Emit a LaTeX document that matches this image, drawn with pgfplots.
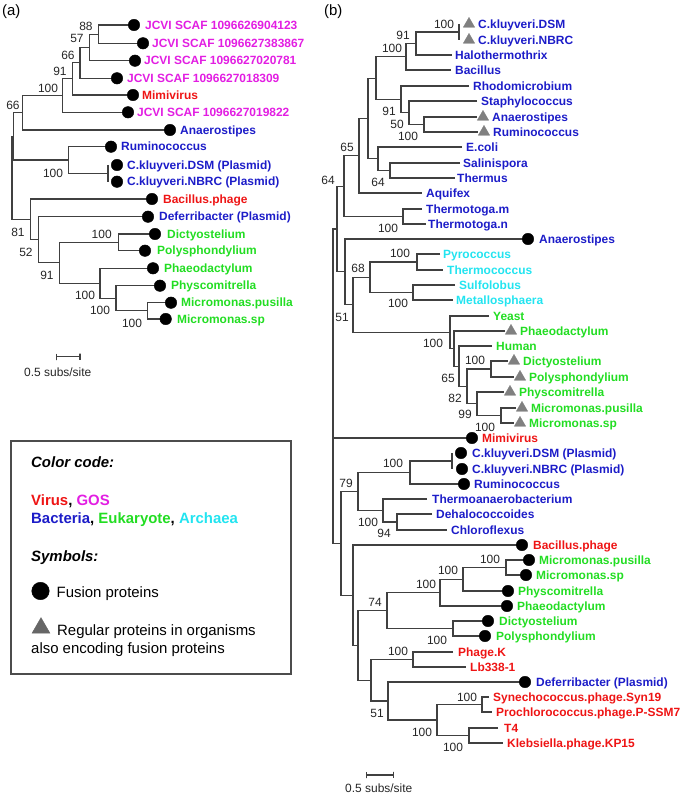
\documentclass[border=0pt]{standalone}
\usepackage{pgfplots}
\pgfplotsset{compat=1.18}
\usepackage{pgfplotstable}
\usepackage{fontspec}
\setmainfont{Liberation Sans}
\definecolor{cvir}{HTML}{EE1414}
\definecolor{cgos}{HTML}{E21EE2}
\definecolor{cbac}{HTML}{1C1CC8}
\definecolor{ceuk}{HTML}{22DD22}
\definecolor{carc}{HTML}{22E4F0}
\definecolor{ctri}{HTML}{808080}
\definecolor{cbr}{HTML}{404040}

% ---------- leaf label tables (x = start of text, y = leaf row) ----------
\pgfplotstableread[col sep=comma]{
x,y,label
145,25,JCVI SCAF 1096626904123
152,43.3,JCVI SCAF 1096627383867
144,60.7,JCVI SCAF 1096627020781
127,78.3,JCVI SCAF 1096627018309
137,112.3,JCVI SCAF 1096627019822
}\aGOS
\pgfplotstableread[col sep=comma]{
x,y,label
142,95,Mimivirus
163,199,Bacillus.phage
482,438,Mimivirus
533,545,Bacillus.phage
458,652,Phage.K
470,667,Lb338-1
493,697,Synechococcus.phage.Syn19
496,712,Prochlorococcus.phage.P-SSM7
504,728,T4
507,743,Klebsiella.phage.KP15
}\tVIR
\pgfplotstableread[col sep=comma]{
x,y,label
180,130,Anaerostipes
121,146.7,Ruminococcus
127,165,C.kluyveri.DSM (Plasmid)
127,181.7,C.kluyveri.NBRC (Plasmid)
159,216.7,Deferribacter (Plasmid)
478,24,C.kluyveri.DSM
478,40,C.kluyveri.NBRC
455,55,Halothermothrix
455,70,Bacillus
473,86,Rhodomicrobium
481,101,Staphylococcus
492,117,Anaerostipes
493,132,Ruminococcus
466,147,E.coli
463,163,Salinispora
457,178,Thermus
426,193,Aquifex
426,209,Thermotoga.m
428,224,Thermotoga.n
539,239,Anaerostipes
472,453,C.kluyveri.DSM (Plasmid)
472,469,C.kluyveri.NBRC (Plasmid)
474,484,Ruminococcus
432,499,Thermoanaerobacterium
436,514,Dehalococcoides
451,530,Chloroflexus
536,682,Deferribacter (Plasmid)
}\tBAC
\pgfplotstableread[col sep=comma]{
x,y,label
167,234,Dictyostelium
157,250.7,Polysphondylium
164,268.3,Phaeodactylum
171,285.7,Physcomitrella
181,302.7,Micromonas.pusilla
177,319,Micromonas.sp
493,316,Yeast
520,331,Phaeodactylum
496,346,Human
523,361,Dictyostelium
529,377,Polysphondylium
519,392,Physcomitrella
531,408,Micromonas.pusilla
529,423,Micromonas.sp
539,560,Micromonas.pusilla
536,575,Micromonas.sp
518,591,Physcomitrella
517,606,Phaeodactylum
499,621,Dictyostelium
496,636,Polysphondylium
}\tEUK
\pgfplotstableread[col sep=comma]{
x,y,label
443,254,Pyrococcus
447,270,Thermococcus
459,285,Sulfolobus
456,300,Metallosphaera
}\tARC
% ---------- bootstrap values (centre of text) ----------
\pgfplotstableread[col sep=comma]{
x,y,label
86,26,88
77,38,57
68,55,66
60,71,91
48,88,100
13,105,66
53,173,100
18,232,81
26,252,52
101.7,234,100
47,275,91
85,295,100
100,310,100
132,323,100
444,24,100
403,35,91
392,48,100
389,111,91
397,124,50
408,136,100
347,147,65
378,182,64
388,228,100
328,180,64
400,253,100
358,268,68
398,303,100
342,317,51
433,343,100
475,360,100
448,378,65
455,398,82
465,414,99
485,427,100
393,463,100
346,483,79
368,522,100
384,533,94
490,559,100
448,570,100
426,584,100
375,602,74
437,640,100
398,651,100
467,697,100
377,713,51
422,732,100
453,747,100
}\tBOOT

\pgfplotsset{
  br/.style={cbr, line width=1.1bp, mark=none, forget plot},
  leaf/.style={only marks, mark=none, forget plot, nodes near coords,
    point meta=explicit symbolic, nodes near coords align={anchor=base west},
    every node near coord/.append style={font=\bfseries\fontsize{12}{14}\selectfont,
      inner sep=0pt, yshift=-4.3pt, text=#1}},
  boot/.style={only marks, mark=none, forget plot, nodes near coords,
    point meta=explicit symbolic, nodes near coords align={anchor=base},
    every node near coord/.append style={font=\fontsize{12}{14}\selectfont,
      inner sep=0pt, yshift=-4.3pt, text=black!85}},
}

\begin{document}
\begin{tikzpicture}
\begin{axis}[
  scale only axis, width=685bp, height=797bp,
  xmin=0, xmax=685, ymin=0, ymax=797, y dir=reverse,
  hide axis, clip=false,
]
\coordinate (bl) at (axis cs:0,797);
\coordinate (tr) at (axis cs:685,0);

% ================= tree (a) =================
\addplot[br] coordinates {(134,25)(98.3,25)(98.3,43.3)(143,43.3)};
\addplot[br] coordinates {(98.3,34.15)(89.3,34.15)(89.3,60.7)(135,60.7)};
\addplot[br] coordinates {(89.3,47.4)(80,47.4)(80,78.3)(117,78.3)};
\addplot[br] coordinates {(80,62.85)(72.7,62.85)(72.7,95)(133,95)};
\addplot[br] coordinates {(72.7,78.9)(62.7,78.9)(62.7,112.3)(128,112.3)};
\addplot[br] coordinates {(62.7,95.6)(22.7,95.6)(22.7,130)(170,130)};
\addplot[br] coordinates {(108,165)(108,181.7)};
\addplot[br] coordinates {(111,146.7)(68.3,146.7)(68.3,173.35)(108,173.35)};
\addplot[br] coordinates {(22.7,112.8)(13.5,112.8)(13.5,160)(68.3,160)};
\addplot[br] coordinates {(13.5,136.4)(12,136.4)(12,219.4)(30.7,219.4)};
\addplot[br] coordinates {(152,199)(30.7,199)(30.7,239.75)(38.3,239.75)};
\addplot[br] coordinates {(148,216.7)(38.3,216.7)(38.3,262.8)(59.3,262.8)};
\addplot[br] coordinates {(118.3,242.35)(59.3,242.35)(59.3,283.3)(100,283.3)};
\addplot[br] coordinates {(155,234)(118.3,234)(118.3,250.7)(145,250.7)};
\addplot[br] coordinates {(153,268.3)(100,268.3)(100,298.3)(116,298.3)};
\addplot[br] coordinates {(160,285.7)(116,285.7)(116,310.85)(147.3,310.85)};
\addplot[br] coordinates {(171,302.7)(147.3,302.7)(147.3,319)(165.7,319)};
% scale bar (a)
\addplot[br] coordinates {(56.7,353.5)(56.7,360)(56.7,356.7)(80,356.7)(80,353.5)(80,360)};

% ================= tree (b) =================
\addplot[br] coordinates {(459,24)(459,40)};
\addplot[br] coordinates {(459,32)(416,32)(416,55)(452,55)};
\addplot[br] coordinates {(416,43.5)(406,43.5)(406,70)(451,70)};
\addplot[br] coordinates {(477,117)(424,117)(424,132)(478,132)};
\addplot[br] coordinates {(477,101)(409,101)(409,124.5)(424,124.5)};
\addplot[br] coordinates {(469,86)(401,86)(401,112.75)(409,112.75)};
\addplot[br] coordinates {(406,56.75)(376,56.75)(376,99.4)(401,99.4)};
\addplot[br] coordinates {(460,163)(390,163)(390,178)(455,178)};
\addplot[br] coordinates {(462,147)(378,147)(378,170.5)(390,170.5)};
\addplot[br] coordinates {(376,78.1)(368,78.1)(368,158.75)(378,158.75)};
\addplot[br] coordinates {(368,118.4)(359,118.4)(359,193)(422,193)};
\addplot[br] coordinates {(422,209)(403,209)(403,224)(426,224)};
\addplot[br] coordinates {(359,155.7)(344,155.7)(344,216.5)(403,216.5)};
\addplot[br] coordinates {(440,254)(417,254)(417,270)(443,270)};
\addplot[br] coordinates {(455,285)(413,285)(413,300)(453,300)};
\addplot[br] coordinates {(417,262)(370,262)(370,292.5)(413,292.5)};
\addplot[br] coordinates {(508,361)(491,361)(491,377)(514,377)};
\addplot[br] coordinates {(516,408)(501,408)(501,423)(514,423)};
\addplot[br] coordinates {(504,392)(477,392)(477,415.5)(501,415.5)};
\addplot[br] coordinates {(491,369)(467,369)(467,403.75)(477,403.75)};
\addplot[br] coordinates {(492,346)(459,346)(459,386.4)(467,386.4)};
\addplot[br] coordinates {(505,331)(454,331)(454,366.2)(459,366.2)};
\addplot[br] coordinates {(489,316)(450,316)(450,348.6)(454,348.6)};
\addplot[br] coordinates {(370,277.25)(353,277.25)(353,332.3)(450,332.3)};
\addplot[br] coordinates {(528,239)(345,239)(345,304.8)(353,304.8)};
\addplot[br] coordinates {(344,186.1)(337,186.1)(337,271.9)(345,271.9)};
\addplot[br] coordinates {(337,229)(333,229)(333,543.35)(341,543.35)};
\addplot[br] coordinates {(333,438)(472,438)};
\addplot[br] coordinates {(452,453)(452,469)};
\addplot[br] coordinates {(452,461)(410,461)(410,484)(464,484)};
\addplot[br] coordinates {(432,514)(397,514)(397,530)(447,530)};
\addplot[br] coordinates {(427,499)(383,499)(383,522)(397,522)};
\addplot[br] coordinates {(410,472.5)(358,472.5)(358,510.5)(383,510.5)};
\addplot[br] coordinates {(529,560)(506,560)(506,575)(526,575)};
\addplot[br] coordinates {(506,567.5)(463,567.5)(463,591)(508,591)};
\addplot[br] coordinates {(463,579.25)(440,579.25)(440,606)(507,606)};
\addplot[br] coordinates {(488,621)(453,621)(453,636)(485,636)};
\addplot[br] coordinates {(440,592.6)(387,592.6)(387,628.5)(453,628.5)};
\addplot[br] coordinates {(453,652)(413,652)(413,667)(466,667)};
\addplot[br] coordinates {(489,697)(482,697)(482,712)(492,712)};
\addplot[br] coordinates {(498,728)(469,728)(469,743)(503,743)};
\addplot[br] coordinates {(482,704.5)(437,704.5)(437,735.5)(469,735.5)};
\addplot[br] coordinates {(525,682)(388,682)(388,720)(437,720)};
\addplot[br] coordinates {(413,659.5)(371,659.5)(371,701)(388,701)};
\addplot[br] coordinates {(387,610.6)(358,610.6)(358,680.25)(371,680.25)};
\addplot[br] coordinates {(522,545)(353,545)(353,645.4)(358,645.4)};
\addplot[br] coordinates {(358,491.5)(341,491.5)(341,595.2)(353,595.2)};
% scale bar (b)
\addplot[br] coordinates {(366.7,771.8)(366.7,778.2)(366.7,775)(393.3,775)(393.3,771.8)(393.3,778.2)};

% ================= markers =================
\addplot[only marks, mark=*, mark size=5.8pt, black, forget plot] coordinates {
(134,25)(143,43.3)(135,60.7)(117,78.3)(133,95)(128,112.3)(170,130)(111,146.7)
(117,165)(117,181.7)(152,199)(148,216.7)(155,234)(145,250.7)(153,268.3)
(160,285.7)(171,302.7)(165.7,319)
(528,239)(472,438)(461,453)(462,469)(464,484)(522,545)(529,560)(526,575)
(508,591)(507,606)(488,621)(485,636)(525,682)};
\addplot[only marks, mark=triangle*, mark size=6.6pt, ctri, forget plot] coordinates {
(469,24)(469,40)(483,117)(484,132)(511,331)(514,361)(520,377)(510,392)(522,408)(520,423)};

% ================= labels =================
\addplot[leaf=cgos] table[x=x,y=y,meta=label] {\aGOS};
\addplot[leaf=cvir] table[x=x,y=y,meta=label] {\tVIR};
\addplot[leaf=cbac] table[x=x,y=y,meta=label] {\tBAC};
\addplot[leaf=ceuk] table[x=x,y=y,meta=label] {\tEUK};
\addplot[leaf=carc] table[x=x,y=y,meta=label] {\tARC};
\addplot[boot] table[x=x,y=y,meta=label] {\tBOOT};

% panel labels and scale texts
\node[anchor=west, inner sep=0pt, font=\fontsize{15}{17}\selectfont] at (axis cs:2,12) {(a)};
\node[anchor=west, inner sep=0pt, font=\fontsize{15}{17}\selectfont] at (axis cs:324,12) {(b)};
\node[anchor=west, inner sep=0pt, font=\fontsize{12}{14}\selectfont, text=black!85] at (axis cs:24,372) {0.5 subs/site};
\node[anchor=west, inner sep=0pt, font=\fontsize{12}{14}\selectfont, text=black!85] at (axis cs:345,788) {0.5 subs/site};

% ================= colour / symbol key =================
\draw[black!70, line width=1.3bp] (axis cs:11,441) rectangle (axis cs:291,674);
\node[anchor=base west, inner sep=0pt, font=\bfseries\itshape\fontsize{15}{17}\selectfont] at (axis cs:31,467.5) {Color code:};
\node[anchor=base west, inner sep=0pt, font=\bfseries\fontsize{15}{17}\selectfont] at (axis cs:31,505.5) {\textcolor{cvir}{Virus}, \textcolor{cgos}{GOS}};
\node[anchor=base west, inner sep=0pt, font=\bfseries\fontsize{15}{17}\selectfont] at (axis cs:31,523.5) {\textcolor{cbac}{Bacteria}, \textcolor{ceuk}{Eukaryote}, \textcolor{carc}{Archaea}};
\node[anchor=base west, inner sep=0pt, font=\bfseries\itshape\fontsize{15}{17}\selectfont] at (axis cs:31,561.5) {Symbols:};
\addplot[only marks, mark=*, mark size=8.8pt, black, forget plot] coordinates {(40.5,591)};
\node[anchor=base west, inner sep=0pt, font=\fontsize{15}{17}\selectfont] at (axis cs:56.5,597.5) {Fusion proteins};
\addplot[only marks, mark=triangle*, mark size=10.4pt, black!60, forget plot] coordinates {(41,628)};
\node[anchor=base west, inner sep=0pt, font=\fontsize{15}{17}\selectfont] at (axis cs:57,635.5) {Regular proteins in organisms};
\node[anchor=base west, inner sep=0pt, font=\fontsize{15}{17}\selectfont] at (axis cs:31,653.5) {also encoding fusion proteins};
\end{axis}
\pgfresetboundingbox
\path (bl) rectangle (tr);
\end{tikzpicture}
\end{document}
